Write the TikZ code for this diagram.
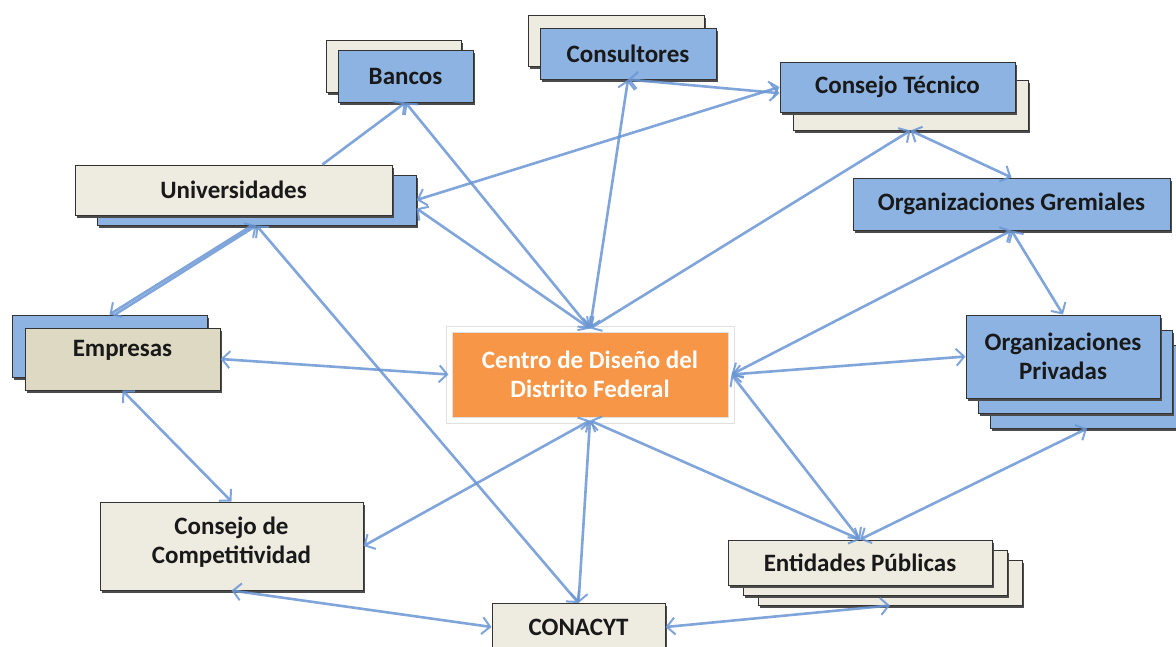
\documentclass[tikz,border=0pt]{standalone}
\usepackage{fontspec}
\setmainfont{Carlito}
\usetikzlibrary{arrows.meta, shadows}

\definecolor{cardblue}{RGB}{141,179,226}
\definecolor{cardcream}{RGB}{238,236,225}
\definecolor{cardtan}{RGB}{221,217,195}
\definecolor{huborange}{RGB}{247,150,70}
\definecolor{linkblue}{RGB}{105,150,212}

\tikzset{
    card/.style={draw=black!80, line width=1pt, inner sep=2pt, align=center,
        font=\fontsize{25}{29}\selectfont\bfseries, text=black!90,
        drop shadow={shadow xshift=1.5pt, shadow yshift=-2.5pt, fill=black!70, opacity=1}},
    bluecard/.style={card, fill=cardblue},
    creamcard/.style={card, fill=cardcream},
    tancard/.style={card, fill=cardtan},
    barb/.tip={Straight Barb[length=8pt, width=17pt, line width=2pt]},
    link/.style={draw=linkblue, draw opacity=0.85, line width=2.6pt, barb-barb},
    oneway/.style={link, -barb},
}

\begin{document}
\begin{tikzpicture}[x=1pt, y=-1pt]

\useasboundingbox[fill=white] (0,0) rectangle (1176,646);

% top row
\node[creamcard, minimum width=135pt, minimum height=52pt] (bancos-back) at (393.5,66) {};
\node[bluecard, minimum width=135pt, minimum height=52pt] (bancos) at (405.5,76) {Bancos};

\node[creamcard, minimum width=176pt, minimum height=51pt] (consultores-back) at (616,40.5) {};
\node[bluecard, minimum width=176pt, minimum height=51pt] (consultores) at (628,53.5) {Consultores};

\node[creamcard, minimum width=235pt, minimum height=50pt] (tecnico-back) at (910.5,105) {};
\node[bluecard, minimum width=235pt, minimum height=50pt] (tecnico) at (897.5,87) {Consejo Técnico};

% left column
\node[bluecard, minimum width=319pt, minimum height=50pt] (univ-back) at (256.5,200) {};
\node[creamcard, minimum width=317pt, minimum height=50pt] (univ) at (233.5,190) {Universidades};

\node[bluecard, minimum width=195pt, minimum height=62pt] (empresas-back) at (109.5,346) {};
\node[tancard, minimum width=195pt, minimum height=62pt, text depth=22pt] (empresas) at (122.5,359) {Empresas};

\node[creamcard, minimum width=263pt, minimum height=88pt, text depth=12pt] (competitividad) at (231.5,546) {Consejo de\\Competitividad};

% right column
\node[bluecard, minimum width=317pt, minimum height=52pt] (gremiales) at (1011.5,204) {Organizaciones Gremiales};

\foreach \k in {2, 1} {
    \node[bluecard, minimum width=194pt, minimum height=83pt] (privadas-\k) at ({1063+12*\k},{356.5+15*\k}) {};
}
\node[bluecard, minimum width=194pt, minimum height=83pt] (privadas) at (1063,356.5) {Organizaciones\\Privadas};

% bottom row
\foreach \k in {2, 1} {
    \node[creamcard, minimum width=264pt, minimum height=45pt] (entidades-\k) at ({860+15*\k},{562.5+10*\k}) {};
}
\node[creamcard, minimum width=264pt, minimum height=45pt] (entidades) at (860,562.5) {Entidades Públicas};

\node[creamcard, minimum width=173pt, minimum height=47pt] (conacyt) at (578.5,627) {CONACYT};

% centre
\node[fill=huborange, draw=black!12, double=white, double distance=5pt, line width=1pt,
    minimum width=282pt, minimum height=91pt, align=center,
    font=\fontsize{25}{29}\selectfont\bfseries, text=white] (centro) at (590,374.5) {Centro de Diseño del\\Distrito Federal};

% connections
\draw[oneway] (univ.16) -- (bancos.south);
\draw[oneway] (univ-back.260) -- (empresas-back.north);
\draw[oneway] (empresas-back.80) -- (univ-back.south);

\foreach \a/\b in {
    bancos.south/centro.north,
    consultores.south/centro.north,
    consultores.south/tecnico.183,
    univ-back.east/tecnico.west,
    univ-back.357/centro.north,
    centro.north/tecnico-back.south,
    tecnico-back.south/gremiales.north,
    gremiales.south/privadas.north,
    gremiales.south/centro.east,
    centro.east/privadas.west,
    centro.east/entidades.north,
    centro.south/entidades.north,
    privadas-2.south/entidades.north,
    centro.south/conacyt.north,
    centro.south/competitividad.east,
    univ-back.south/conacyt.north,
    empresas.east/centro.west,
    empresas.south/competitividad.north,
    competitividad.south/conacyt.west,
    conacyt.east/entidades-2.south%
} {
    \draw[link] (\a) -- (\b);
}

\end{tikzpicture}
\end{document}
